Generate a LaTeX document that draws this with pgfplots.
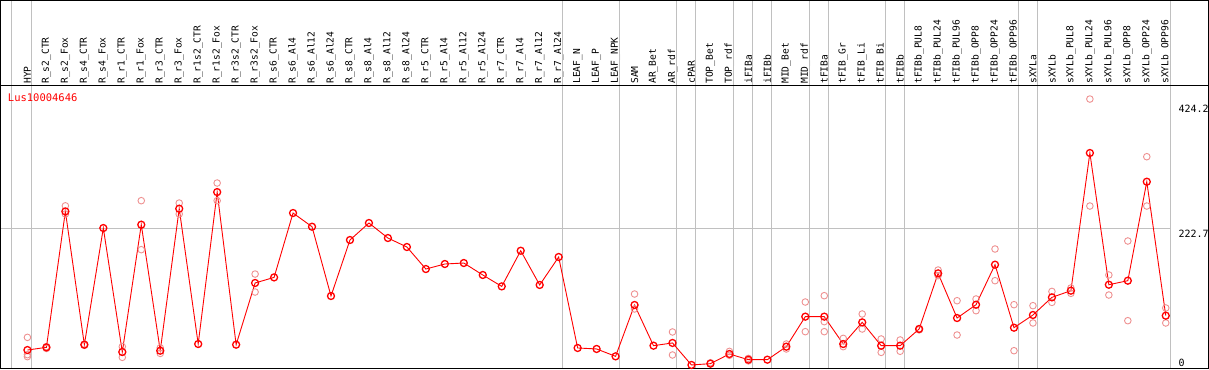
\documentclass[border=0pt]{standalone}
\usepackage{fontspec}
\newfontfamily\lblfont{DejaVu Sans Mono}
\usepackage{pgfplots}
\usepackage{pgfplotstable}
\pgfplotsset{compat=1.18}
\definecolor{meanred}{RGB}{255,0,0}
\definecolor{reppink}{RGB}{238,145,145}
\definecolor{gridgray}{RGB}{192,192,192}

\pgfplotstableread{
i v
0 27.5
1 31.8
2 251
3 36.1
4 224.2
5 24.3
6 229.6
7 26.4
8 255.4
9 37.2
10 282.2
11 36.1
12 135.6
13 144.6
14 248.4
15 226.3
16 114.6
17 204.9
18 232.3
19 208.1
20 193.6
21 158.1
22 166.2
23 167.8
24 148.5
25 130.1
26 187.6
27 132.4
28 177.5
29 30.8
30 29.2
31 17.3
32 100.1
33 34.5
34 38.9
35 3.4
36 5.5
37 21.1
38 11.9
39 11.9
40 32.9
41 81.3
42 81.3
43 37.2
44 72.1
45 34.5
46 34.5
47 61.4
48 151.1
49 79.1
50 100.6
51 165.1
52 63.5
53 84
54 112.4
55 123.2
56 345.2
57 132.8
58 139.3
59 298.9
60 82.9
}\meantable

\pgfplotstableread{
i v
0 47.9
0 16.8
0 20
1 30
1 33
2 260
2 246.8
3 35
3 37
5 33
5 15.7
6 268.3
6 189.3
7 31
7 22
8 264.5
8 246.8
10 296.8
10 268.3
12 150
12 121
32 117.8
32 93.7
34 56.6
34 19.5
36 7
37 25.3
37 19
38 14
38 10
40 37.2
40 29.2
41 104.9
41 57.1
42 115.1
42 73.2
42 57.1
43 46.3
43 32.9
44 85.6
44 61.4
45 45.3
45 23.7
46 43.7
46 25.5
47 62
47 60
48 156.5
48 147.4
49 107
49 51.7
50 109.8
50 90.9
51 190.4
51 139.3
52 100.6
52 26.4
53 99
53 71.1
54 122
54 104.3
55 127.5
55 118.9
56 432.2
56 259.7
57 148.5
57 116.2
58 203.3
58 74.8
59 339.2
59 259.7
60 95.3
60 71.1
}\reptable

\begin{document}
\begin{tikzpicture}
\begin{axis}[
  scale only axis, width=1170pt, height=283pt,
  xmin=-1.407, xmax=60.24, ymin=-2.58, ymax=453.6,
  clip=false,
  axis line style={draw=none},
  tick style={draw=none}, major tick length=0pt,
  xtick={0,...,60},
  xticklabels={HYP,R\_s2\_CTR,R\_s2\_Fox,R\_s4\_CTR,R\_s4\_Fox,R\_r1\_CTR,R\_r1\_Fox,R\_r3\_CTR,R\_r3\_Fox,R\_r1s2\_CTR,R\_r1s2\_Fox,R\_r3s2\_CTR,R\_r3s2\_Fox,R\_s6\_CTR,R\_s6\_Al4,R\_s6\_Al12,R\_s6\_Al24,R\_s8\_CTR,R\_s8\_Al4,R\_s8\_Al12,R\_s8\_Al24,R\_r5\_CTR,R\_r5\_Al4,R\_r5\_Al12,R\_r5\_Al24,R\_r7\_CTR,R\_r7\_Al4,R\_r7\_Al12,R\_r7\_Al24,LEAF\_N,LEAF\_P,LEAF\_NPK,SAM,AR\_Bet,AR\_rdf,cPAR,TOP\_Bet,TOP\_rdf,iFIBa,iFIBb,MID\_Bet,MID\_rdf,tFIBa,tFIB\_Gr,tFIB\_Li,tFIB\_Bi,tFIBb,tFIBb\_PUL8,tFIBb\_PUL24,tFIBb\_PUL96,tFIBb\_OPP8,tFIBb\_OPP24,tFIBb\_OPP96,sXYLa,sXYLb,sXYLb\_PUL8,sXYLb\_PUL24,sXYLb\_PUL96,sXYLb\_OPP8,sXYLb\_OPP24,sXYLb\_OPP96},
  xticklabel pos=right,
  xticklabel style={rotate=90, anchor=west, inner xsep=2pt, inner ysep=0pt, font=\lblfont\fontsize{9.6}{10}\selectfont},
  ytick={13.7,222.7,424.2},
  yticklabels={0,222.7,424.2},
  yticklabel pos=right,
  yticklabel style={anchor=west, inner sep=0pt, xshift=8pt, yshift=-4.4pt, font=\lblfont\fontsize{10}{11}\selectfont},
]
\draw[gridgray, line width=1pt] (axis cs:-1.407,222.7) -- (axis cs:60.24,222.7);
\pgfplotsinvokeforeach{-0.84,0.22,28.22,31.22,34.22,35.22,37.22,38.22,39.22,41.22,42.22,45.22,46.22,52.22,53.22,60.24}{
  \draw[gridgray, line width=1pt] (axis cs:#1,-2.58) -- (axis cs:#1,590.7);
}
\addplot[only marks, mark=o, mark size=3.3pt, mark options={draw=reppink, line width=0.9pt}] table[x=i,y=v]{\reptable};
\addplot[meanred, line width=0.9pt, mark=o, mark size=3.5pt, mark options={line width=1.3pt}] table[x=i,y=v]{\meantable};
\draw[black, line width=1.5pt] (axis cs:-1.407,-2.58) rectangle (axis cs:62.24,590.7);
\draw[black, line width=1.2pt] (axis cs:-1.407,453.6) -- (axis cs:62.24,453.6);
\node[anchor=west, text=red, inner sep=0pt, font=\lblfont\fontsize{10.5}{12}\selectfont] at (axis cs:-1.038,434.3) {Lus10004646};
\end{axis}
\end{tikzpicture}
\end{document}
